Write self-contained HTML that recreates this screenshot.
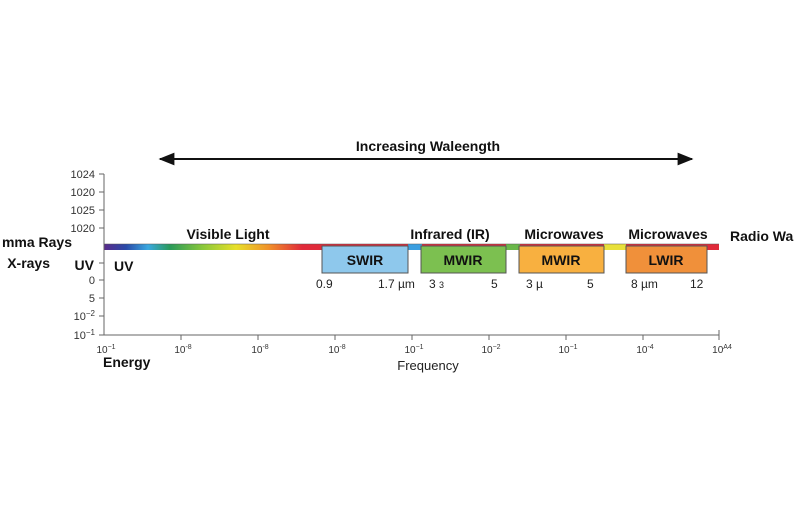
<!DOCTYPE html>
<html><head><style>
body{margin:0;background:#fff;}
svg text{font-family:"Liberation Sans",sans-serif;}
</style></head><body>
<svg width="800" height="500" viewBox="0 0 800 500" xmlns="http://www.w3.org/2000/svg">
<defs>
<linearGradient id="sp" x1="0" x2="1">
<stop offset="0" stop-color="#5a2a8a"/>
<stop offset="0.1" stop-color="#2a4aa8"/>
<stop offset="0.2" stop-color="#3aa8e0"/>
<stop offset="0.3" stop-color="#2a9a5a"/>
<stop offset="0.45" stop-color="#8ac83a"/>
<stop offset="0.6" stop-color="#e8e02a"/>
<stop offset="0.75" stop-color="#f0902a"/>
<stop offset="0.9" stop-color="#e02a3a"/>
<stop offset="1" stop-color="#e02a3a"/>
</linearGradient>
<marker id="ah" viewBox="0 0 10 10" refX="9" refY="5" markerWidth="8" markerHeight="8" orient="auto-start-reverse"><path d="M0,1 L10,5 L0,9 z" fill="#111"/></marker>
</defs>
<text x="428" y="151" font-size="14" font-weight="bold" text-anchor="middle" fill="#111">Increasing Waleength</text>
<line x1="160" y1="159" x2="692" y2="159" stroke="#111" stroke-width="2" marker-start="url(#ah)" marker-end="url(#ah)"/>
<!-- spectrum -->
<rect x="104" y="244" width="220" height="6" fill="url(#sp)"/>
<rect x="322" y="244" width="397" height="6" fill="#e02a3a"/>
<rect x="408" y="244" width="14" height="6" fill="#3a9ee0"/>
<rect x="506" y="244" width="14" height="6" fill="#6ab84a"/>
<rect x="604" y="244" width="22" height="6" fill="#e8e03a"/>
<line x1="104" y1="244" x2="719" y2="244" stroke="#555" stroke-width="0.6"/>
<!-- boxes -->
<rect x="322" y="246" width="86" height="27" fill="#8ec8ec" stroke="#555"/>
<rect x="421" y="246" width="85" height="27" fill="#7cc050" stroke="#555"/>
<rect x="519" y="246" width="85" height="27" fill="#f8b040" stroke="#555"/>
<rect x="626" y="246" width="81" height="27" fill="#f0903a" stroke="#555"/>
<g font-size="14" font-weight="bold" text-anchor="middle" fill="#111">
<text x="365" y="265">SWIR</text><text x="463" y="265">MWIR</text><text x="561" y="265">MWIR</text><text x="666" y="265">LWIR</text>
<text x="228" y="239">Visible Light</text><text x="450" y="239">Infrared (IR)</text><text x="564" y="239">Microwaves</text><text x="668" y="239">Microwaves</text>
</g>
<g font-size="14" font-weight="bold" fill="#111">
<text x="730" y="241">Radio Wa</text>
<text x="72" y="247" text-anchor="end">mma Rays</text>
<text x="50" y="268" text-anchor="end">X-rays</text>
<text x="94" y="270" text-anchor="end">UV</text>
<text x="114" y="271">UV</text>
<text x="103" y="367">Energy</text>
</g>
<g font-size="12" fill="#222">
<text x="316" y="288">0.9</text><text x="378" y="288">1.7 µm</text><text x="429" y="288">3 <tspan font-size="9">3</tspan></text><text x="491" y="288">5</text>
<text x="526" y="288">3 µ</text><text x="587" y="288">5</text><text x="631" y="288">8 µm</text><text x="690" y="288">12</text>
<text x="428" y="370" text-anchor="middle" font-size="13">Frequency</text>
</g>
<!-- axes -->
<line x1="104" y1="174" x2="104" y2="335" stroke="#666"/>
<line x1="104" y1="335" x2="719" y2="335" stroke="#666"/>
<g stroke="#666">
<line x1="99" y1="174" x2="104" y2="174"/><line x1="99" y1="192" x2="104" y2="192"/><line x1="99" y1="210" x2="104" y2="210"/><line x1="99" y1="228" x2="104" y2="228"/>
<line x1="99" y1="263" x2="104" y2="263"/><line x1="99" y1="280" x2="104" y2="280"/><line x1="99" y1="298" x2="104" y2="298"/><line x1="99" y1="316" x2="104" y2="316"/><line x1="99" y1="335" x2="104" y2="335"/>
<line x1="181" y1="335" x2="181" y2="340"/><line x1="258" y1="335" x2="258" y2="340"/><line x1="335" y1="335" x2="335" y2="340"/><line x1="412" y1="335" x2="412" y2="340"/><line x1="489" y1="335" x2="489" y2="340"/><line x1="566" y1="335" x2="566" y2="340"/><line x1="643" y1="335" x2="643" y2="340"/><line x1="719" y1="330" x2="719" y2="340"/>
</g>
<g font-size="11" fill="#333" text-anchor="end">
<text x="95" y="178">1024</text><text x="95" y="196">1020</text><text x="95" y="214">1025</text><text x="95" y="232">1020</text>
<text x="95" y="284">0</text><text x="95" y="302">5</text><text x="95" y="320">10<tspan font-size="8" dy="-4">−2</tspan></text><text x="95" y="339">10<tspan font-size="8" dy="-4">−1</tspan></text>
</g>
<g font-size="10" fill="#333" text-anchor="middle">
<text x="106" y="353">10<tspan font-size="7" dy="-4">−1</tspan></text>
<text x="183" y="353">10<tspan font-size="7" dy="-4">-8</tspan></text>
<text x="260" y="353">10<tspan font-size="7" dy="-4">-8</tspan></text>
<text x="337" y="353">10<tspan font-size="7" dy="-4">-8</tspan></text>
<text x="414" y="353">10<tspan font-size="7" dy="-4">−1</tspan></text>
<text x="491" y="353">10<tspan font-size="7" dy="-4">−2</tspan></text>
<text x="568" y="353">10<tspan font-size="7" dy="-4">−1</tspan></text>
<text x="645" y="353">10<tspan font-size="7" dy="-4">-4</tspan></text>
<text x="722" y="353">10<tspan font-size="7" dy="-4">A4</tspan></text>
</g>
</svg>
</body></html>
